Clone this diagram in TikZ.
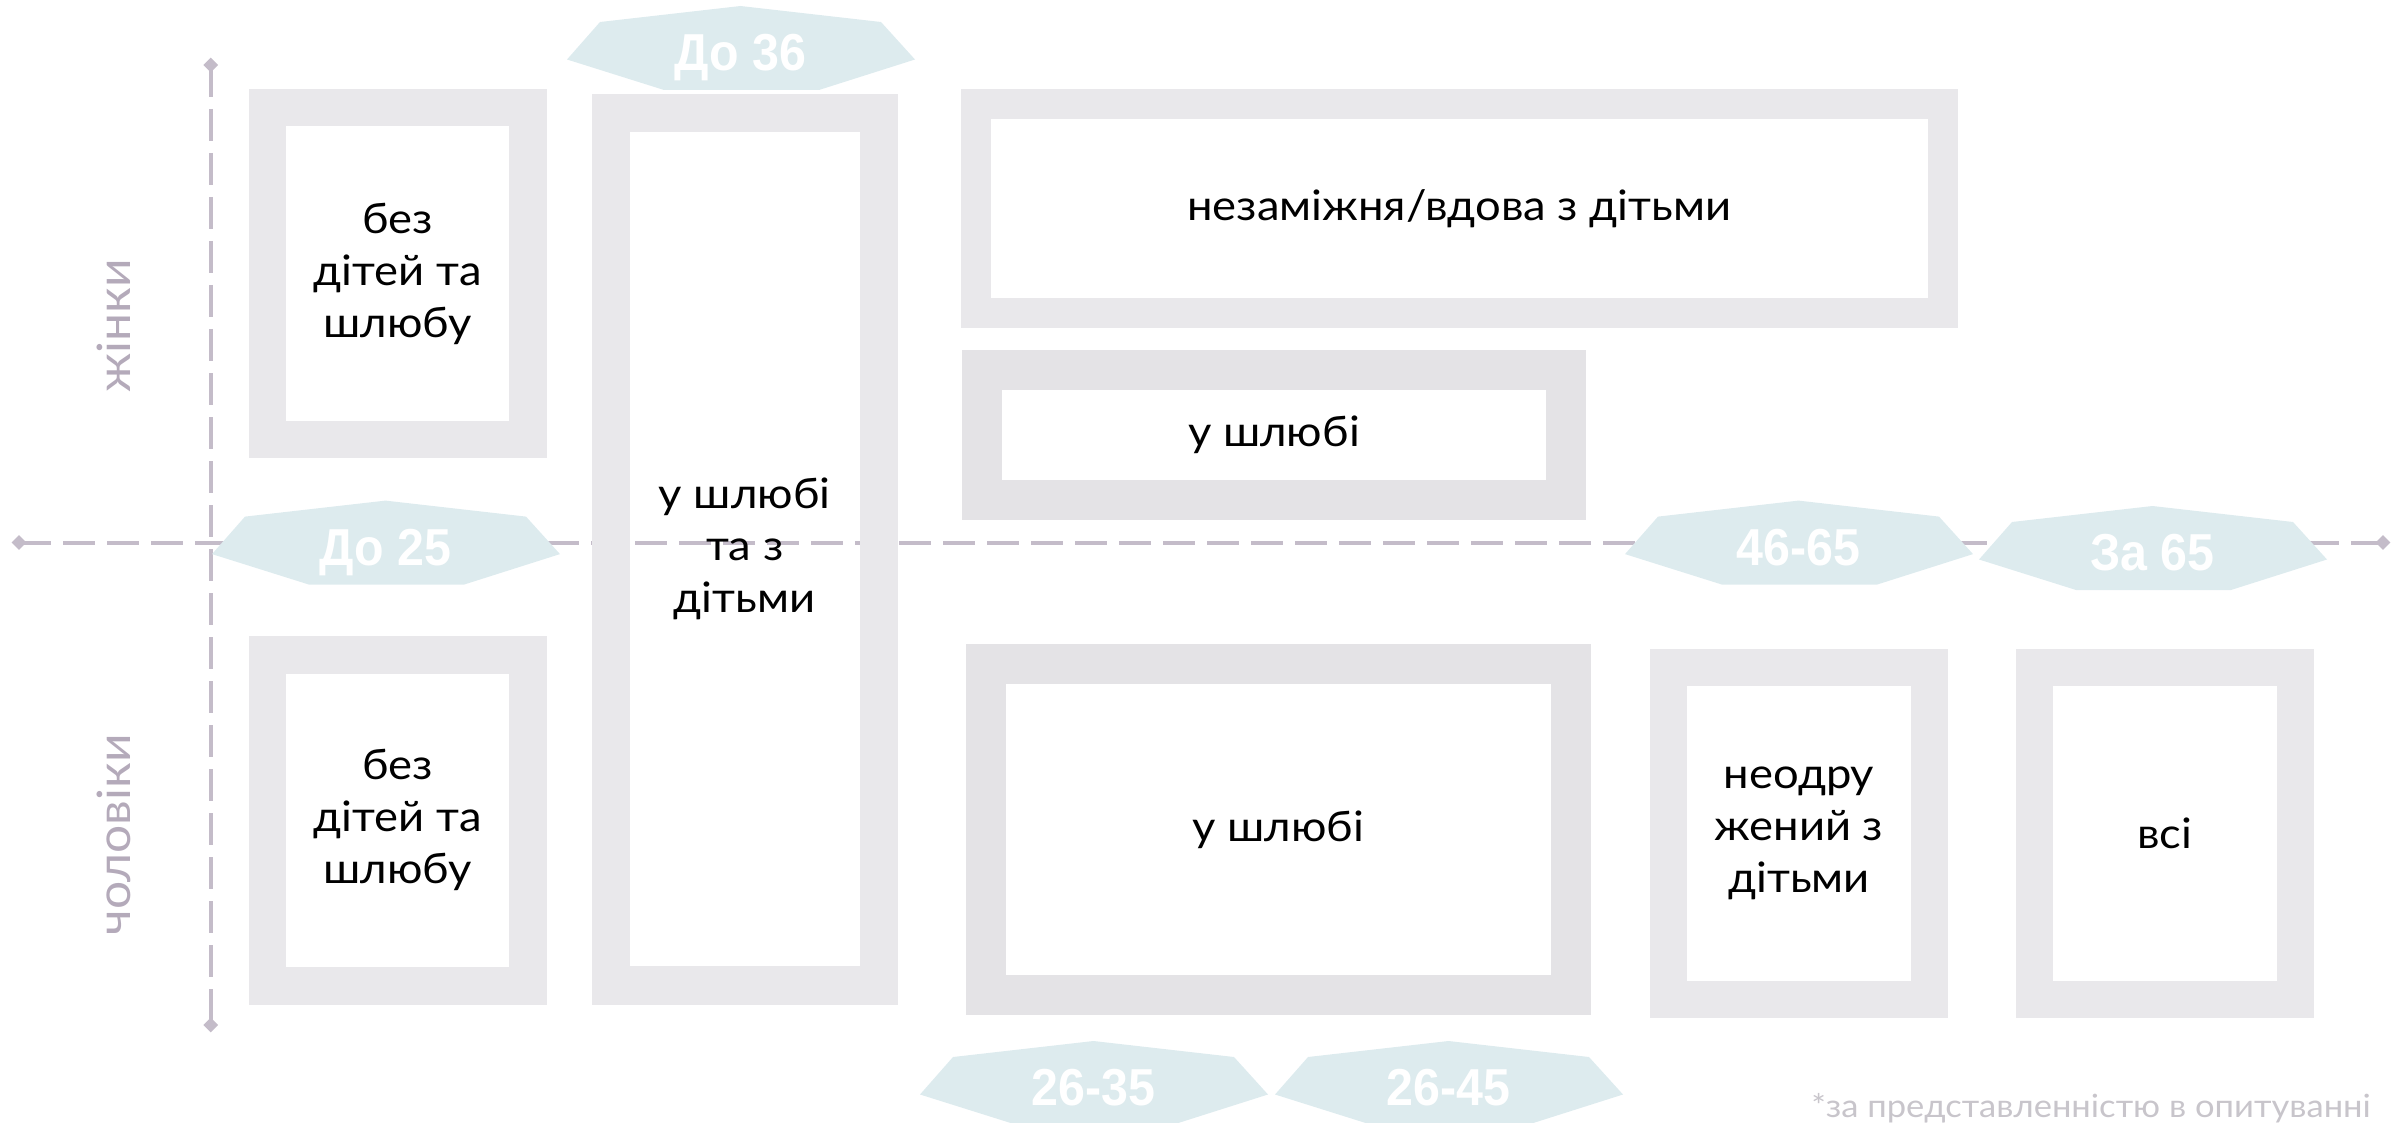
\documentclass[tikz,border=0pt]{standalone}
\usepackage{fontspec}
\setmainfont[FakeStretch=1.08]{Lato}
\newfontfamily\hexfont[FakeStretch=0.93]{Liberation Sans}
\usetikzlibrary{shapes.geometric}
\definecolor{frameA}{RGB}{233,232,235}
\definecolor{frameB}{RGB}{228,227,230}
\definecolor{hexfill}{RGB}{221,235,238}
\definecolor{axiscol}{RGB}{196,188,201}
\definecolor{axtext}{RGB}{180,170,186}
\definecolor{footcol}{RGB}{200,197,203}
\tikzset{
  boxframe/.style={draw=frameA, inner sep=0pt, outer sep=0pt, align=center, text=black,
    font=\fontsize{42}{52}\selectfont},
  axisline/.style={draw=axiscol, line width=4pt, dash pattern=on 32pt off 12pt},
  axtip/.style={diamond, fill=axiscol, inner sep=0pt, minimum width=15pt, minimum height=15pt},
  axlabel/.style={text=axtext, font=\fontsize{46}{50}\selectfont, anchor=base, rotate=90, inner sep=0pt},
  hexbg/.style={fill=hexfill},
  hexlabel/.style={text=white, font=\hexfont\bfseries\fontsize{52}{56}\selectfont, anchor=base, inner sep=0pt},
}
\begin{document}
\begin{tikzpicture}[x=1pt,y=-1pt]
\useasboundingbox (0,0) rectangle (2399,1123);
% axes
\node[axtip] (xl) at (19,542.5) {};
\node[axtip] (xr) at (2383,542.5) {};
\node[axtip] (yt) at (210.7,65) {};
\node[axtip] (yb) at (210.7,1025) {};
\draw[axisline] (xl.center) -- (xr.center);
\draw[axisline] (yt.center) -- (yb.center);
% axis labels
\node[axlabel] (fem) at (130,326) {жінки};
\node[axlabel] (male) at (130,835) {чоловіки};
% boxes
\node[boxframe, line width=37.5pt, minimum width=260.7pt, minimum height=331.5pt] (b1) at (397.6,273.5) {без\\дітей та\\шлюбу};
\node[boxframe, line width=38.5pt, minimum width=268pt, minimum height=872pt] (b2) at (744.75,549.25) {у шлюбі\\та з\\дітьми};
\node[boxframe, line width=37.5pt, minimum width=260.7pt, minimum height=331pt] (b3) at (397.6,820.25) {без\\дітей та\\шлюбу};
\node[boxframe, line width=30pt, minimum width=966.5pt, minimum height=209pt] (b4) at (1459.25,208.5) {незаміжня/вдова з дітьми};
\node[boxframe, draw=frameB, line width=40pt, minimum width=584pt, minimum height=130pt] (b5) at (1274,435) {у шлюбі};
\node[boxframe, line width=37pt, minimum width=261pt, minimum height=332pt] (b6) at (1799,833.5) {неодру\\жений з\\дітьми};
\node[boxframe, line width=37pt, minimum width=260.6pt, minimum height=332pt] (b7) at (2164.8,833.5) {всі};
\node[boxframe, draw=frameB, line width=40pt, minimum width=585pt, minimum height=331.3pt] (b8) at (1278.5,829.35) {у шлюбі};
% hexagons
\foreach \hx/\hy in {567/6, 212/500.6, 1625/500.6, 1979/506, 920/1041, 1275/1041}{
  \fill[hexbg, shift={(\hx,\hy)}] (0,53.5) -- (33,16) -- (173.5,0) -- (314,16) -- (348,53.5) -- (252,84) -- (97,84) -- cycle;
}
\node[hexlabel] (h36) at (740.5,70.5) {До 36};
\node[hexlabel] (h25) at (385.5,565.1) {До 25};
\node[hexlabel] (h4665) at (1798.5,565.1) {46-65};
\node[hexlabel] (h65) at (2152.5,570.5) {За 65};
\node[hexlabel] (h2635) at (1093.5,1105.5) {26-35};
\node[hexlabel] (h2645) at (1448.5,1105.5) {26-45};
% footnote
\node[anchor=base east, inner sep=0pt, text=footcol, font=\fontsize{32}{36}\selectfont] (note) at (2371,1117) {*за представленністю в опитуванні};
\end{tikzpicture}
\end{document}
